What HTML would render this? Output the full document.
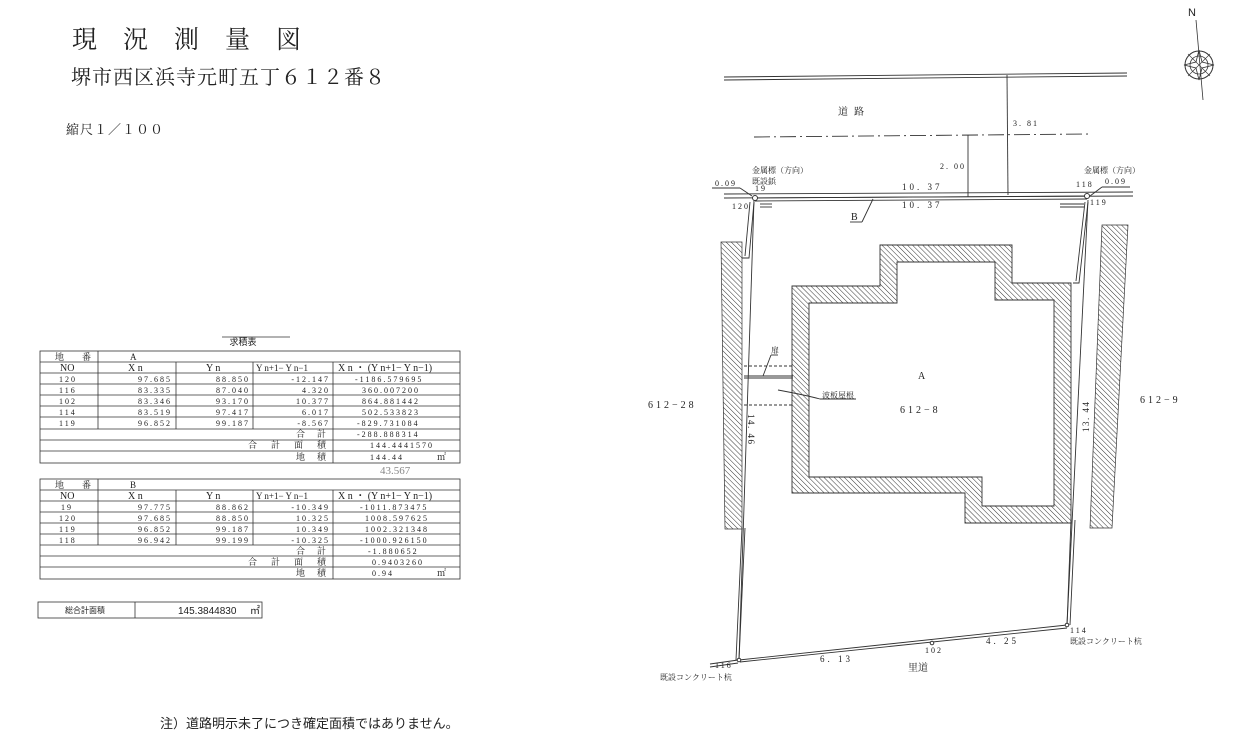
<!DOCTYPE html>
<html><head><meta charset="utf-8"><style>
html,body{margin:0;padding:0;background:#fff}
svg{display:block}
text{font-family:"Liberation Serif","Noto Serif CJK SC","Noto Sans CJK JP",serif;fill:#222}
.s{font-family:"Liberation Sans","Noto Sans CJK JP",sans-serif}
.t{font-size:8px;letter-spacing:2px}
</style></head><body>
<svg width="1260" height="747" viewBox="0 0 1260 747" xmlns="http://www.w3.org/2000/svg">
<defs>
<pattern id="h" width="3.6" height="3.6" patternUnits="userSpaceOnUse" patternTransform="rotate(-45)">
<line x1="0" y1="0" x2="0" y2="3.6" stroke="#333" stroke-width="1"/>
</pattern>
</defs>
<text x="72" y="48" font-size="25" letter-spacing="26">現況測量図</text>
<text x="71" y="84" font-size="20" letter-spacing="1">堺市西区浜寺元町五丁６１２番８</text>
<text x="66" y="134" font-size="13" letter-spacing="1">縮尺１／１００</text>

<text x="243" y="345" font-size="9" text-anchor="middle" class="s">求積表</text>
<line x1="222" y1="337" x2="290" y2="337" stroke="#333" stroke-width="0.8"/>
<g stroke="#333" stroke-width="0.8" fill="none">
<rect x="40" y="351" width="420" height="112"/>
<line x1="40" y1="362" x2="460" y2="362"/>
<line x1="98" y1="351" x2="98" y2="362"/>
<line x1="40" y1="373" x2="460" y2="373"/>
<line x1="40" y1="384" x2="460" y2="384"/>
<line x1="40" y1="395" x2="460" y2="395"/>
<line x1="40" y1="406" x2="460" y2="406"/>
<line x1="40" y1="417" x2="460" y2="417"/>
<line x1="40" y1="429" x2="460" y2="429"/>
<line x1="40" y1="440" x2="460" y2="440"/>
<line x1="40" y1="451" x2="460" y2="451"/>
<line x1="98" y1="362" x2="98" y2="429"/>
<line x1="176" y1="362" x2="176" y2="429"/>
<line x1="253" y1="362" x2="253" y2="429"/>
<line x1="333" y1="362" x2="333" y2="463"/>
</g>
<g font-size="9">
<text x="55" y="360">地　　番</text><text x="130" y="360">A</text>
<text x="60" y="371" font-size="10">NO</text><text x="128" y="371" font-size="10">X n</text><text x="206" y="371" font-size="10">Y n</text>
<text x="256" y="371" font-size="9">Y n+1− Y n−1</text><text x="338" y="371" font-size="10">X n ・ (Y n+1− Y n−1)</text>
</g>
<g class="t">
<text x="59" y="382">120</text><text x="172" y="382" text-anchor="end">97.685</text><text x="250" y="382" text-anchor="end">88.850</text><text x="330" y="382" text-anchor="end">-12.147</text><text x="355" y="382">-1186.579695</text>
<text x="59" y="393">116</text><text x="172" y="393" text-anchor="end">83.335</text><text x="250" y="393" text-anchor="end">87.040</text><text x="330" y="393" text-anchor="end">4.320</text><text x="362" y="393">360.007200</text>
<text x="59" y="404">102</text><text x="172" y="404" text-anchor="end">83.346</text><text x="250" y="404" text-anchor="end">93.170</text><text x="330" y="404" text-anchor="end">10.377</text><text x="362" y="404">864.881442</text>
<text x="59" y="415">114</text><text x="172" y="415" text-anchor="end">83.519</text><text x="250" y="415" text-anchor="end">97.417</text><text x="330" y="415" text-anchor="end">6.017</text><text x="362" y="415">502.533823</text>
<text x="59" y="426">119</text><text x="172" y="426" text-anchor="end">96.852</text><text x="250" y="426" text-anchor="end">99.187</text><text x="330" y="426" text-anchor="end">-8.567</text><text x="357" y="426">-829.731084</text>
<text x="357" y="437">-288.888314</text><text x="370" y="448">144.4441570</text><text x="370" y="460">144.44</text>
</g>
<g font-size="9" class="s">
<text x="296" y="437" letter-spacing="12">合計</text>
<text x="248" y="448" letter-spacing="14">合計面積</text>
<text x="296" y="460" letter-spacing="12">地積</text>
<text x="437" y="460">㎡</text>
</g>
<text x="380" y="474" font-size="11" style="fill:#888">43.567</text>

<g stroke="#333" stroke-width="0.8" fill="none">
<rect x="40" y="479" width="420" height="100"/>
<line x1="40" y1="490" x2="460" y2="490"/>
<line x1="98" y1="479" x2="98" y2="490"/>
<line x1="40" y1="501" x2="460" y2="501"/>
<line x1="40" y1="512" x2="460" y2="512"/>
<line x1="40" y1="523" x2="460" y2="523"/>
<line x1="40" y1="534" x2="460" y2="534"/>
<line x1="40" y1="545" x2="460" y2="545"/>
<line x1="40" y1="556" x2="460" y2="556"/>
<line x1="40" y1="567" x2="460" y2="567"/>
<line x1="98" y1="490" x2="98" y2="545"/>
<line x1="176" y1="490" x2="176" y2="545"/>
<line x1="253" y1="490" x2="253" y2="545"/>
<line x1="333" y1="490" x2="333" y2="579"/>
</g>
<g font-size="9">
<text x="55" y="488">地　　番</text><text x="130" y="488">B</text>
<text x="60" y="499" font-size="10">NO</text><text x="128" y="499" font-size="10">X n</text><text x="206" y="499" font-size="10">Y n</text>
<text x="256" y="499" font-size="9">Y n+1− Y n−1</text><text x="338" y="499" font-size="10">X n ・ (Y n+1− Y n−1)</text>
</g>
<g class="t">
<text x="61" y="510">19</text><text x="172" y="510" text-anchor="end">97.775</text><text x="250" y="510" text-anchor="end">88.862</text><text x="330" y="510" text-anchor="end">-10.349</text><text x="360" y="510">-1011.873475</text>
<text x="59" y="521">120</text><text x="172" y="521" text-anchor="end">97.685</text><text x="250" y="521" text-anchor="end">88.850</text><text x="330" y="521" text-anchor="end">10.325</text><text x="365" y="521">1008.597625</text>
<text x="59" y="532">119</text><text x="172" y="532" text-anchor="end">96.852</text><text x="250" y="532" text-anchor="end">99.187</text><text x="330" y="532" text-anchor="end">10.349</text><text x="365" y="532">1002.321348</text>
<text x="59" y="543">118</text><text x="172" y="543" text-anchor="end">96.942</text><text x="250" y="543" text-anchor="end">99.199</text><text x="330" y="543" text-anchor="end">-10.325</text><text x="360" y="543">-1000.926150</text>
<text x="368" y="554">-1.880652</text><text x="372" y="565">0.9403260</text><text x="372" y="576">0.94</text>
</g>
<g font-size="9" class="s">
<text x="296" y="554" letter-spacing="12">合計</text>
<text x="248" y="565" letter-spacing="14">合計面積</text>
<text x="296" y="576" letter-spacing="12">地積</text>
<text x="437" y="576">㎡</text>
</g>

<rect x="38" y="602" width="224" height="16" fill="none" stroke="#333" stroke-width="0.8"/>
<line x1="135" y1="602" x2="135" y2="618" stroke="#333" stroke-width="0.8"/>
<text x="65" y="613" font-size="8" class="s">総合計面積</text>
<text x="178" y="614" font-size="10" class="s">145.3844830</text>
<text x="250" y="614" font-size="10" class="s">㎡</text>

<text x="160" y="728" font-size="13" class="s">注）道路明示未了につき確定面積ではありません。</text>

<text x="1188" y="16" font-size="11" class="s">N</text>
<line x1="1196" y1="20" x2="1203" y2="100" stroke="#333" stroke-width="0.8"/>
<circle cx="1199" cy="65" r="14" fill="none" stroke="#333" stroke-width="1"/>
<circle cx="1199" cy="65" r="9" fill="none" stroke="#333" stroke-width="0.8"/>
<path d="M1199 50 L1202 62 L1214 65 L1202 68 L1199 80 L1196 68 L1184 65 L1196 62Z" fill="none" stroke="#333" stroke-width="0.8"/>
<path d="M1188 54 L1210 76 M1210 54 L1188 76" stroke="#333" stroke-width="0.6"/>

<g stroke="#333" fill="none" stroke-width="0.9">
<line x1="724" y1="77" x2="1127" y2="73"/>
<line x1="724" y1="80" x2="1127" y2="76"/>
<line x1="754" y1="137" x2="1088" y2="134" stroke-dasharray="16,4,2,4"/>
<line x1="1007" y1="75" x2="1008" y2="195"/>
<line x1="968" y1="135" x2="968" y2="197"/>
<line x1="724" y1="194" x2="1133" y2="192"/>
<line x1="724" y1="198" x2="1133" y2="196"/>
<line x1="755" y1="198" x2="1087" y2="196"/>
<line x1="755" y1="201" x2="1087" y2="199"/>
<line x1="712" y1="188" x2="740" y2="188"/><line x1="740" y1="188" x2="752" y2="196"/>
<line x1="1130" y1="187" x2="1102" y2="187"/><line x1="1102" y1="187" x2="1090" y2="196"/>
<line x1="760" y1="204" x2="772" y2="204"/><line x1="760" y1="207" x2="772" y2="207"/>
<line x1="1060" y1="204" x2="1084" y2="204"/><line x1="1060" y1="207" x2="1084" y2="207"/>
<line x1="850" y1="222" x2="862" y2="222"/><line x1="862" y1="222" x2="873" y2="199"/>
<line x1="754" y1="200" x2="739" y2="660"/>
<line x1="739" y1="660" x2="1067" y2="625"/>
<line x1="1088" y1="200" x2="1067" y2="625"/>
<path d="M754 202 L749 258 L742 258 M750 202 L745 256"/>
<path d="M745 528 L739 660 M742 528 L736 660"/>
<path d="M740 662 L1067 628"/>
<path d="M1088 202 L1079 283 L1073 283 M1085 202 L1076 281"/>
<path d="M1071 520 L1067 625 M1075 520 L1070 625"/>
<line x1="710" y1="664" x2="738" y2="660"/>
<line x1="710" y1="667" x2="738" y2="663"/>
<line x1="744" y1="366" x2="793" y2="366" stroke-dasharray="3,2"/>
<line x1="744" y1="405" x2="793" y2="405" stroke-dasharray="3,2"/>
<line x1="744" y1="376" x2="793" y2="376"/>
<line x1="744" y1="378" x2="793" y2="378"/>
<line x1="763" y1="376" x2="771" y2="355"/><line x1="771" y1="355" x2="778" y2="355"/>
<path d="M778 390 Q805 395 820 399 L856 399"/>
</g>
<circle cx="755" cy="198" r="2.5" fill="#fff" stroke="#333"/>
<circle cx="1087" cy="196" r="2.5" fill="#fff" stroke="#333"/>
<circle cx="932" cy="643" r="1.8" fill="#fff" stroke="#333"/>
<circle cx="1067" cy="625" r="1.8" fill="#fff" stroke="#333"/>
<circle cx="739" cy="660" r="1.8" fill="#fff" stroke="#333"/>
<path d="M792 286 L880 286 L880 245 L1012 245 L1012 283 L1071 283 L1071 523 L965 523 L965 493 L792 493 Z M809 303 L809 477 L982 477 L982 506 L1054 506 L1054 300 L995 300 L995 262 L897 262 L897 303 Z" fill="url(#h)" fill-rule="evenodd" stroke="#333" stroke-width="0.9"/>
<path d="M721 242 L742 242 L742 529 L725 529 Z" fill="url(#h)" stroke="#333" stroke-width="0.7"/>
<path d="M1102 225 L1128 225 L1112 528 L1090 528 Z" fill="url(#h)" stroke="#333" stroke-width="0.7"/>

<g class="s" font-size="8">
<text x="838" y="115" font-size="10" letter-spacing="6">道路</text>
<text x="1013" y="126" letter-spacing="2">3. 81</text>
<text x="940" y="169" letter-spacing="2">2. 00</text>
<text x="752" y="173">金属標（方向）</text>
<text x="752" y="184">既設鋲</text>
<text x="755" y="191" letter-spacing="2">19</text>
<text x="715" y="186" letter-spacing="2">0.09</text>
<text x="732" y="209" letter-spacing="2">120</text>
<text x="1084" y="173">金属標（方向）</text>
<text x="1076" y="187" letter-spacing="2">118</text>
<text x="1105" y="184" letter-spacing="2">0.09</text>
<text x="1090" y="205" letter-spacing="2">119</text>
<text x="902" y="190" font-size="9" letter-spacing="3">10. 37</text>
<text x="902" y="208" font-size="9" letter-spacing="3">10. 37</text>
<text x="851" y="220" font-size="10">B</text>
<text x="771" y="353">扉</text>
<text x="822" y="398">波板屋根</text>
<text x="918" y="379" font-size="10">A</text>
<text x="900" y="413" font-size="10" letter-spacing="3">612−8</text>
<text x="648" y="408" font-size="10" letter-spacing="3">612−28</text>
<text x="1140" y="403" font-size="10" letter-spacing="3">612−9</text>
<text transform="translate(748,414) rotate(90)" font-size="9" letter-spacing="1.5">14. 46</text>
<text transform="translate(1089,432) rotate(-90)" font-size="9" letter-spacing="1.5">13. 44</text>
<text x="820" y="662" font-size="9" letter-spacing="3">6. 13</text>
<text x="986" y="644" font-size="9" letter-spacing="3">4. 25</text>
<text x="925" y="653" letter-spacing="2">102</text>
<text x="908" y="671" font-size="10">里道</text>
<text x="715" y="668" letter-spacing="2">116</text>
<text x="660" y="680">既設コンクリート杭</text>
<text x="1070" y="633" letter-spacing="2">114</text>
<text x="1070" y="644">既設コンクリート杭</text>
</g>
</svg>
</body></html>
